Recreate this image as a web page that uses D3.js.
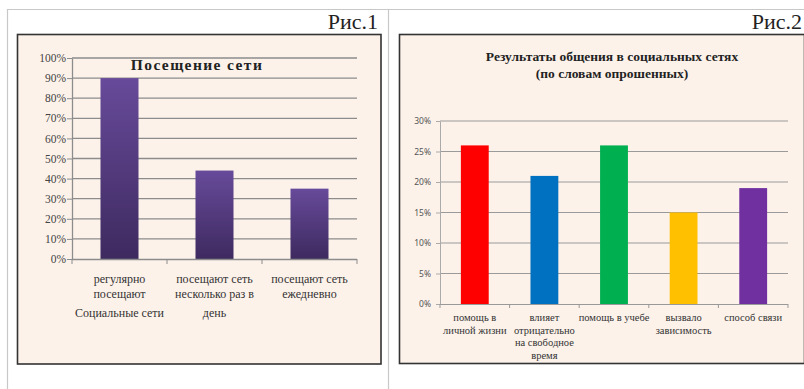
<!DOCTYPE html>
<html><head><meta charset="utf-8">
<script src="https://cdn.jsdelivr.net/npm/d3@7"></script>
<style>
html,body{margin:0;padding:0;background:#fff;}
svg{display:block;}
</style></head>
<body>
<svg id="c" width="804" height="389"></svg>
<script>
// ---- Data ----
const cats1 = [["регулярно","посещают","Социальные  сети"],["посещают сеть","несколько раз в","день"],["посещают сеть","ежедневно"]];
const vals1 = [0.90, 0.44, 0.35];
const ticks1 = [0,0.1,0.2,0.3,0.4,0.5,0.6,0.7,0.8,0.9,1.0];
const title1 = "Посещение   сети";
const fig1 = "Рис.1";

const cats2 = [["помощь в","личной жизни"],["влияет","отрицательно","на свободное","время"],["помощь в учебе"],["вызвало","зависимость"],["способ связи"]];
const vals2 = [0.26, 0.21, 0.26, 0.15, 0.19];
const colors2 = ["#ff0000","#0070c0","#00b050","#ffc000","#7030a0"];
const ticks2 = [0,0.05,0.10,0.15,0.20,0.25,0.30];
const title2 = ["Результаты общения в социальных сетях","(по словам опрошенных)"];
const fig2 = "Рис.2";

const svg = d3.select("#c");
const serif = "'Liberation Serif','Times New Roman',serif";
const bg = "#fcf2ea";

// outer table lines
const g0 = svg.append("g").attr("stroke","#c8c8c8").attr("stroke-width",1.2);
g0.append("line").attr("x1",7).attr("x2",804).attr("y1",9.5).attr("y2",9.5);
g0.append("line").attr("x1",7.5).attr("x2",7.5).attr("y1",9).attr("y2",389);
g0.append("line").attr("x1",388.5).attr("x2",388.5).attr("y1",9).attr("y2",389);

svg.append("text").attr("x",378).attr("y",29).attr("text-anchor","end")
  .attr("font-family",serif).attr("font-size",22).attr("fill","#222").text(fig1);
svg.append("text").attr("x",802).attr("y",29).attr("text-anchor","end")
  .attr("font-family",serif).attr("font-size",22).attr("fill","#222").text(fig2);

// chart boxes
svg.append("rect").attr("x",17.5).attr("y",34.5).attr("width",363.5).attr("height",329.5)
  .attr("fill",bg).attr("stroke","#333").attr("stroke-width",1.6);
svg.append("rect").attr("x",399.5).attr("y",34.5).attr("width",405).attr("height",329)
  .attr("fill",bg).attr("stroke","#333").attr("stroke-width",1.6);

// gradient
const defs = svg.append("defs");
const grad = defs.append("linearGradient").attr("id","pg").attr("x1",0).attr("x2",0).attr("y1",0).attr("y2",1);
grad.append("stop").attr("offset","0%").attr("stop-color","#674a9a");
grad.append("stop").attr("offset","100%").attr("stop-color","#3e2a5f");

// ---- Chart 1 ----
{
  const y = d3.scaleLinear().domain([0,1]).range([259,58]);
  const x = d3.scaleBand().domain(d3.range(vals1.length)).range([72,357]).paddingInner(0.6).paddingOuter(0.3);
  const g = svg.append("g");
  g.selectAll(".gl").data(ticks1.filter(t=>t>0)).join("line")
    .attr("x1",72).attr("x2",357).attr("y1",d=>y(d)).attr("y2",d=>y(d))
    .attr("stroke","#8c8c8c").attr("stroke-width",1.3);
  const ya = d3.axisLeft(y).tickValues(ticks1).tickFormat(d3.format(".0%")).tickSize(5).tickSizeOuter(0);
  const yg = g.append("g").attr("transform","translate(72,0)").call(ya);
  yg.attr("font-family",null);
  yg.select(".domain").attr("stroke","#8c8c8c").attr("stroke-width",1.3);
  yg.selectAll(".tick line").attr("stroke","#8c8c8c");
  yg.selectAll("text").style("font-family",serif).attr("font-size",11.5).attr("fill","#444").attr("x",-6);
  g.selectAll(".b").data(vals1).join("rect")
    .attr("x",(d,i)=>x(i)).attr("width",x.bandwidth())
    .attr("y",d=>y(d)).attr("height",d=>y(0)-y(d)).attr("fill","url(#pg)");
  g.append("line").attr("x1",72).attr("x2",357).attr("y1",259.5).attr("y2",259.5).attr("stroke","#8c8c8c").attr("stroke-width",1.3);
  const bounds = d3.range(vals1.length+1).map(i=>72+i*x.step());
  g.selectAll(".xt").data(bounds).join("line").attr("x1",d=>d).attr("x2",d=>d).attr("y1",259).attr("y2",264).attr("stroke","#8c8c8c");
  cats1.forEach((lines,i)=>{
    const cx = x(i)+x.bandwidth()/2;
    const t = g.append("text").attr("text-anchor","middle").style("font-family",serif).attr("font-size",12).attr("fill","#333");
    const ys=[283,298,317];
    lines.forEach((l,j)=>t.append("tspan").attr("x",cx).attr("y",ys[j]).text(l));
  });
  svg.append("text").attr("x",197).attr("y",70).attr("text-anchor","middle")
    .style("font-family",serif).attr("font-weight","bold").attr("font-size",15.5).attr("letter-spacing",1.4)
    .attr("fill","#222").text(title1);
}

// ---- Chart 2 ----
{
  const y = d3.scaleLinear().domain([0,0.3]).range([304,121]);
  const x = d3.scaleBand().domain(d3.range(vals2.length)).range([440,788]).paddingInner(0.6).paddingOuter(0.3);
  const g = svg.append("g");
  g.selectAll(".gl").data(ticks2.filter(t=>t>0)).join("line")
    .attr("x1",440).attr("x2",788).attr("y1",d=>y(d)).attr("y2",d=>y(d))
    .attr("stroke","#9a9a9a").attr("stroke-width",1.2);
  const ya = d3.axisLeft(y).tickValues(ticks2).tickFormat(d3.format(".0%")).tickSize(4).tickSizeOuter(0);
  const yg = g.append("g").attr("transform","translate(440,0)").call(ya);
  yg.select(".domain").attr("stroke","#aaa");
  yg.selectAll(".tick line").attr("stroke","#aaa");
  yg.selectAll("text").style("font-family","'Noto Sans','DejaVu Sans',sans-serif").attr("font-size",8.5).attr("fill","#555").attr("x",-9);
  g.selectAll(".b").data(vals2).join("rect")
    .attr("x",(d,i)=>x(i)).attr("width",x.bandwidth())
    .attr("y",d=>y(d)).attr("height",d=>y(0)-y(d)).attr("fill",(d,i)=>colors2[i]);
  g.append("line").attr("x1",440).attr("x2",788).attr("y1",304.5).attr("y2",304.5).attr("stroke","#999").attr("stroke-width",1.2);
  const bounds = d3.range(vals2.length+1).map(i=>440+i*x.step());
  g.selectAll(".xt").data(bounds).join("line").attr("x1",d=>d).attr("x2",d=>d).attr("y1",304).attr("y2",308).attr("stroke","#999");
  cats2.forEach((lines,i)=>{
    const cx = x(i)+x.bandwidth()/2;
    const t = g.append("text").attr("text-anchor","middle").style("font-family",serif).attr("font-size",10.5).attr("fill","#333");
    lines.forEach((l,j)=>t.append("tspan").attr("x",cx).attr("y",321+j*12.5).text(l));
  });
  const tt = svg.append("text").attr("text-anchor","middle").style("font-family",serif).attr("font-weight","bold")
    .attr("font-size",13.5).attr("fill","#222");
  title2.forEach((l,j)=>tt.append("tspan").attr("x",612).attr("y",61+j*17).text(l));
}
</script>
</body></html>
